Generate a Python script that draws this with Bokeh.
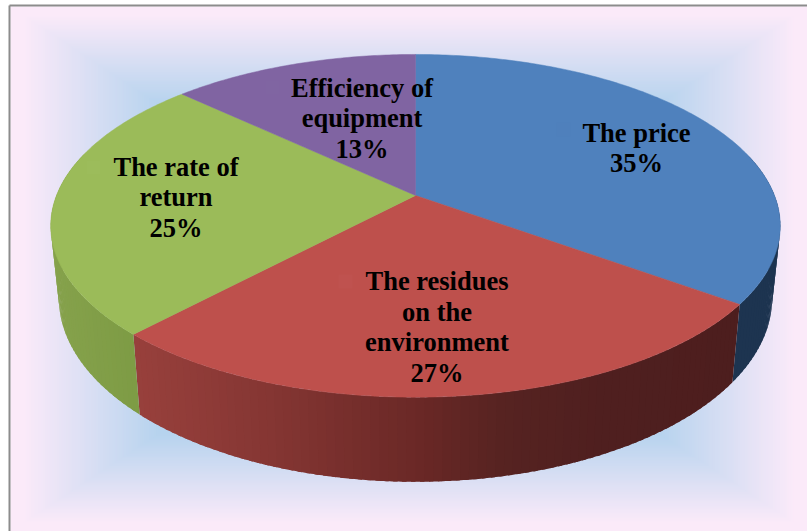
from math import pi, sin, cos

import numpy as np
from bokeh.core.properties import value
from bokeh.embed import file_html
from bokeh.models import ColumnDataSource
from bokeh.plotting import figure
from bokeh.resources import INLINE

# Chart data, clockwise from twelve o'clock
categories = ["The price", "The residues on the environment", "The rate of return", "Efficiency of equipment"]
shares = [35, 27, 25, 13]
label_lines = [
    ["The price", "35%"],
    ["The residues", "on the", "environment", "27%"],
    ["The rate of", "return", "25%"],
    ["Efficiency of", "equipment", "13%"],
]

# Styling
top_colors = ["#4F81BD", "#BE504C", "#9BBB59", "#8064A2"]
key_colors = ["#4F80BC", "#BF524F", "#9CBC5B", "#8065A2"]
wall_x = [
    [700, 800],
    [135, 267, 417, 500, 600, 735],
    [50, 140],
    [0, 1],
]
wall_rgb = [
    [(0x1D, 0x34, 0x50), (0x1D, 0x34, 0x50)],
    [(0x98, 0x40, 0x3C), (0x85, 0x36, 0x33), (0x6A, 0x28, 0x26), (0x56, 0x23, 0x21), (0x4F, 0x1F, 0x1F), (0x4D, 0x1E, 0x1E)],
    [(0x86, 0xA2, 0x4C), (0x7D, 0x9B, 0x44)],
    [(0x60, 0x4B, 0x7A), (0x60, 0x4B, 0x7A)],
]
label_x = [636, 436.5, 175.5, 361.5]
label_baseline = [132, 280.5, 166, 87]
line_step = 30.5
key_x = [563, 345, 93, 272]
key_y = [129, 281, 167, 87]

# Perspective projection of the disc
TILT = 0.177
APEX_X = 415
TOP_Y, TOP_A, TOP_B = 195, 359, 166
BOTTOM_Y, BOTTOM_A, BOTTOM_B = 265, 351, 178


def project(theta, y0, a, b):
    u, v = sin(theta), cos(theta)
    w = 1 + TILT * v
    return APEX_X + a * u / w, y0 - b * v / w


def hex_color(rgb):
    return "#%02X%02X%02X" % tuple(int(round(c)) for c in rgb)


p = figure(width=807, height=531, x_range=(0, 807), y_range=(531, 0),
           output_backend="svg", toolbar_location=None, min_border=0,
           background_fill_color="white", border_fill_color="white", outline_line_color=None)
p.axis.visible = False
p.grid.visible = False

# Rectangular gradient backdrop, pink at the edge to blue in the middle
FRAME_L, FRAME_T, FRAME_R, FRAME_B = 10, 6, 807, 531
pink = np.array((0xFB, 0xEA, 0xF9), dtype=float)
blue = np.array((0xB6, 0xD3, 0xEE), dtype=float)
cx, cy = (FRAME_L + FRAME_R) / 2, (FRAME_T + FRAME_B) / 2
hw, hh = (FRAME_R - FRAME_L) / 2, (FRAME_B - FRAME_T) / 2
steps = np.linspace(1, 0.6, 70)
p.quad(left=cx - hw * steps, right=cx + hw * steps, top=cy - hh * steps, bottom=cy + hh * steps,
       fill_color=[hex_color(pink + (blue - pink) * np.clip((0.97 - t) / 0.34, 0, 1)) for t in steps],
       line_color=None)
p.segment(x0=[9, 9], y0=[5, 5], x1=[9, 807], y1=[531, 5], line_color="#8C8C8C", line_width=2)

# Cumulative slice angles
edges = np.cumsum([0] + shares) / sum(shares) * 2 * pi

# Side wall: strips along the front of the disc, each overlapping the one painted before it
for i in range(len(shares)):
    n = max(2, int(shares[i] * 3))
    ts = np.linspace(edges[i], edges[i + 1], n + 1)
    wall_xs, wall_ys, wall_cols = [], [], []
    for a, b in zip(ts[:-1], ts[1:]):
        if cos((a + b) / 2) > 0.25:
            continue
        grain = np.linspace(a, min(edges[i + 1], b + (b - a) * 0.5), 6)
        top = [project(t, TOP_Y, TOP_A, TOP_B) for t in grain]
        low = [project(t, BOTTOM_Y, BOTTOM_A, BOTTOM_B) for t in grain[::-1]]
        outline = top + low
        wall_xs.append([q[0] for q in outline])
        wall_ys.append([q[1] for q in outline])
        mid = np.mean([q[0] for q in outline])
        rgb = [np.interp(mid, wall_x[i], [c[j] for c in wall_rgb[i]]) for j in range(3)]
        wall_cols.append(hex_color(rgb))
    if wall_xs:
        p.patches(xs=wall_xs, ys=wall_ys, fill_color=wall_cols, line_color=None)

# Top face of each slice
for i in range(len(shares)):
    ts = np.linspace(edges[i], edges[i + 1], int(shares[i] * 5) + 2)
    ring = [project(t, TOP_Y, TOP_A, TOP_B) for t in ts]
    xs = [APEX_X] + [q[0] for q in ring]
    ys = [TOP_Y] + [q[1] for q in ring]
    p.patch(xs, ys, fill_color=top_colors[i], line_color=top_colors[i], line_width=0.5)

# Legend keys left of the labels, barely visible on their slices
for kx, ky, kc in zip(key_x, key_y, key_colors):
    p.scatter([kx], [ky], marker="square", size=14, fill_color=kc, line_color=None)

# Data labels, one text row per line
rows = {"x": [], "y": [], "t": []}
for i, lines in enumerate(label_lines):
    for j, line in enumerate(lines):
        rows["x"].append(label_x[i])
        rows["y"].append(label_baseline[i] + j * line_step)
        rows["t"].append(line)
p.text(x="x", y="y", text="t", source=ColumnDataSource(rows), text_align="center",
       text_baseline="alphabetic", text_font=value("Liberation Serif"), text_font_style="bold",
       text_font_size="26.5px", text_color="black")

open("out.html", "w").write(file_html(p, INLINE))
